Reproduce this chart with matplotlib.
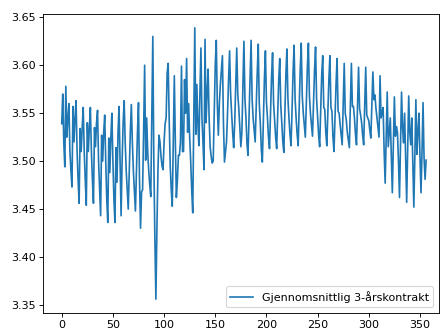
import matplotlib
matplotlib.use("Agg")
import matplotlib.pyplot as plt
import numpy as np

series_label = "Gjennomsnittlig 3-årskontrakt"

# Daily average rate, first half of the period
rate_part1 = [
    3.539, 3.570, 3.520, 3.494, 3.578, 3.525, 3.545,
    3.560, 3.510, 3.490, 3.473, 3.557, 3.520, 3.545,
    3.563, 3.510, 3.480, 3.456, 3.534, 3.510, 3.535,
    3.556, 3.510, 3.480, 3.454, 3.540, 3.510, 3.535,
    3.556, 3.510, 3.480, 3.456, 3.535, 3.515, 3.540,
    3.553, 3.500, 3.470, 3.443, 3.527, 3.500, 3.530,
    3.548, 3.500, 3.460, 3.436, 3.524, 3.488, 3.525,
    3.550, 3.500, 3.460, 3.436, 3.514, 3.478, 3.530,
    3.557, 3.500, 3.443, 3.500, 3.540, 3.563, 3.520,
    3.490, 3.470, 3.450, 3.490, 3.530, 3.559, 3.520,
    3.490, 3.470, 3.448, 3.490, 3.530, 3.561, 3.480,
    3.430, 3.468, 3.470, 3.530, 3.600, 3.501, 3.545,
    3.510, 3.490, 3.475, 3.463, 3.550, 3.630, 3.500,
    3.420, 3.356, 3.430, 3.490, 3.527, 3.520, 3.505,
    3.495, 3.491, 3.520, 3.539, 3.545, 3.592, 3.602,
    3.543, 3.495, 3.470, 3.453, 3.520, 3.589, 3.520,
    3.462, 3.480, 3.506, 3.506, 3.520, 3.599, 3.510,
    3.510, 3.585, 3.550, 3.607, 3.530, 3.560, 3.525,
    3.500, 3.470, 3.446, 3.540, 3.639, 3.528, 3.580,
    3.540, 3.516, 3.570, 3.618, 3.545, 3.520, 3.491,
    3.627, 3.540, 3.570, 3.596, 3.545, 3.515, 3.505,
    3.498, 3.500, 3.550, 3.600, 3.626, 3.560, 3.527,
    3.560, 3.580, 3.595, 3.610, 3.540, 3.499, 3.510,
    3.520, 3.550, 3.585, 3.615, 3.570, 3.550, 3.530,
    3.514, 3.540, 3.580, 3.618, 3.570, 3.555, 3.535,
    3.515, 3.530, 3.580,
]

# Daily average rate, second half of the period
rate_part2 = [
    3.625, 3.565, 3.545, 3.518, 3.506, 3.546, 3.590,
    3.626, 3.565, 3.545, 3.532, 3.520, 3.556, 3.592,
    3.622, 3.560, 3.540, 3.512, 3.499, 3.540, 3.585,
    3.615, 3.562, 3.545, 3.525, 3.513, 3.550, 3.588,
    3.613, 3.560, 3.542, 3.525, 3.513, 3.548, 3.585,
    3.607, 3.558, 3.540, 3.520, 3.509, 3.548, 3.590,
    3.617, 3.565, 3.545, 3.528, 3.516, 3.552, 3.592,
    3.621, 3.565, 3.545, 3.528, 3.516, 3.555, 3.595,
    3.623, 3.568, 3.550, 3.537, 3.525, 3.560, 3.598,
    3.623, 3.568, 3.550, 3.538, 3.526, 3.560, 3.595,
    3.619, 3.565, 3.545, 3.527, 3.515, 3.552, 3.590,
    3.610, 3.556, 3.554, 3.530, 3.516, 3.550, 3.585,
    3.610, 3.556, 3.552, 3.525, 3.510, 3.545, 3.580,
    3.607, 3.552, 3.550, 3.538, 3.528, 3.517, 3.560,
    3.602, 3.550, 3.543, 3.530, 3.522, 3.514, 3.558,
    3.602, 3.557, 3.557, 3.545, 3.528, 3.517, 3.558,
    3.598, 3.555, 3.548, 3.540, 3.527, 3.517, 3.556,
    3.598, 3.548, 3.545, 3.542, 3.532, 3.524, 3.560,
    3.593, 3.564, 3.569, 3.555, 3.545, 3.535, 3.525,
    3.589, 3.545, 3.550, 3.556, 3.510, 3.477, 3.525,
    3.572, 3.515, 3.530, 3.545, 3.505, 3.467, 3.515,
    3.567, 3.526, 3.536, 3.530, 3.500, 3.462, 3.515,
    3.572, 3.535, 3.519, 3.550, 3.505, 3.457, 3.510,
    3.568, 3.530, 3.517, 3.545, 3.500, 3.452, 3.505,
    3.564, 3.507, 3.530, 3.550, 3.505, 3.467, 3.510,
    3.561, 3.503, 3.481, 3.501,
]

rate = np.array(rate_part1 + rate_part2)
days = np.arange(len(rate))

fig = plt.figure(figsize=(442 / 80, 331 / 80), dpi=80)
ax = fig.add_axes([43.3 / 442, 1 - 312.7 / 331, (438.7 - 43.3) / 442, (312.7 - 14.3) / 331])
ax.plot(days, rate, color="#1f77b4", linewidth=1.5, label=series_label)
ax.set_xlim(-18.0, 368.3)
ax.legend(loc="lower right")
fig.savefig("out.png", dpi=80)
